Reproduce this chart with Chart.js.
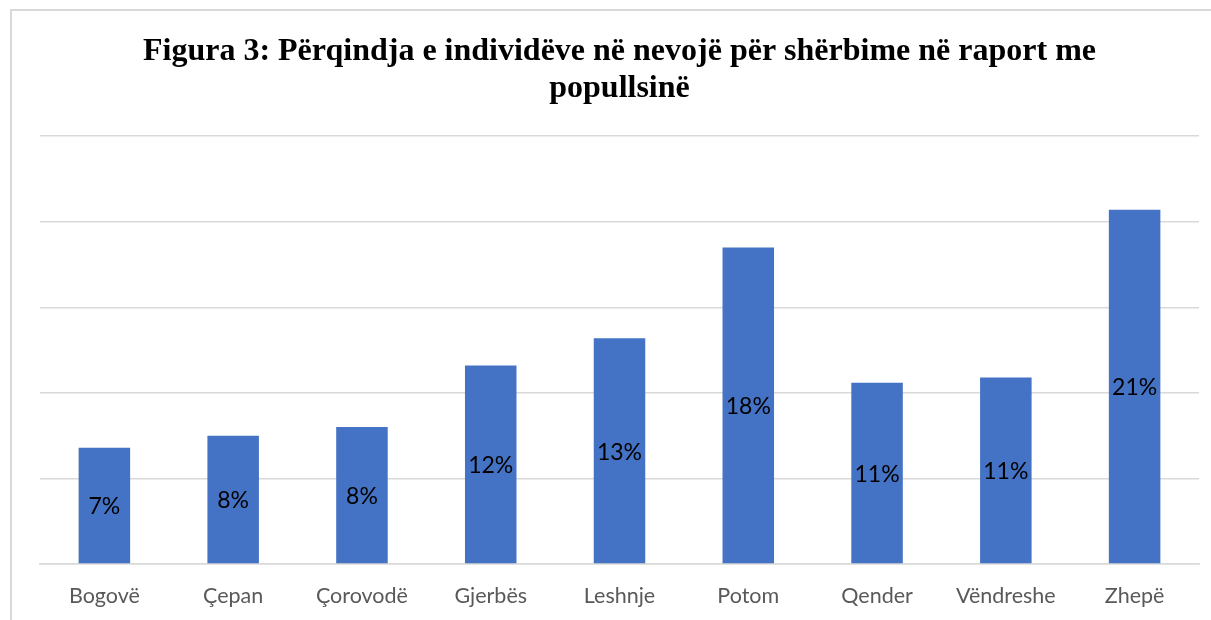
<!DOCTYPE html>
<html>
<head>
<meta charset="utf-8">
<script src="https://cdn.jsdelivr.net/npm/chart.js@4.4.1/dist/chart.umd.min.js"></script>
<style>
  html, body { margin: 0; padding: 0; background: #fff; overflow: hidden; }
  #frame { position: absolute; left: 10px; top: 9px; width: 1400px; height: 800px;
           border-left: 2px solid #d9d9d9; border-top: 2px solid #d9d9d9; box-sizing: border-box; }
  #wrap { position: absolute; left: 0; top: 0; width: 1211px; height: 620px; }
</style>
</head>
<body>
<div id="frame"></div>
<div id="wrap"><canvas id="c" width="1211" height="620"></canvas></div>
<script>
const categories = ['Bogovë', 'Çepan', 'Çorovodë', 'Gjerbës', 'Leshnje', 'Potom', 'Qender', 'Vëndreshe', 'Zhepë'];
const shares = [6.8, 7.5, 8.0, 11.6, 13.2, 18.5, 10.6, 10.9, 20.7];
const shareLabels = ['7%', '8%', '8%', '12%', '13%', '18%', '11%', '11%', '21%'];
const titleLines = ['Figura 3: Përqindja e individëve në nevojë për shërbime në raport me', 'popullsinë'];

const centerLabels = {
  id: 'centerLabels',
  afterDatasetsDraw(chart) {
    const ctx = chart.ctx;
    const meta = chart.getDatasetMeta(0);
    ctx.save();
    ctx.font = '23px Lato, "Open Sans", sans-serif';
    ctx.fillStyle = '#000000';
    ctx.textAlign = 'center';
    ctx.textBaseline = 'middle';
    meta.data.forEach((bar, i) => {
      const p = bar.getProps(['x', 'y', 'base'], true);
      ctx.fillText(shareLabels[i], p.x, (p.y + p.base) / 2 + 1.5);
    });
    ctx.restore();
  }
};

new Chart(document.getElementById('c'), {
  type: 'bar',
  data: {
    labels: categories,
    datasets: [{
      data: shares,
      backgroundColor: '#4472C4',
      borderWidth: 0,
      barPercentage: 0.4,
      categoryPercentage: 1.0
    }]
  },
  options: {
    responsive: false,
    animation: false,
    layout: { padding: { left: 40, right: 12, top: 0, bottom: 0 } },
    plugins: {
      legend: { display: false },
      tooltip: { enabled: false },
      title: {
        display: true,
        text: titleLines,
        color: '#000000',
        font: { family: '"Liberation Serif", "Times New Roman", serif', size: 32, weight: 'bold', lineHeight: 1.16 },
        padding: { top: 33, bottom: 29 }
      }
    },
    scales: {
      x: {
        afterFit: s => { s.height = 56; },
        grid: { display: false, drawTicks: false },
        border: { display: true, color: '#d9d9d9', width: 1.5 },
        ticks: { color: '#595959', padding: 19, font: { family: 'Lato, "Open Sans", sans-serif', size: 21.5 } }
      },
      y: {
        min: 0, max: 25,
        afterFit: s => { s.width = 0; },
        ticks: { display: false, stepSize: 5 },
        grid: { color: '#d9d9d9', lineWidth: 1.5, drawTicks: false },
        border: { display: false }
      }
    }
  },
  plugins: [centerLabels]
});
</script>
</body>
</html>
